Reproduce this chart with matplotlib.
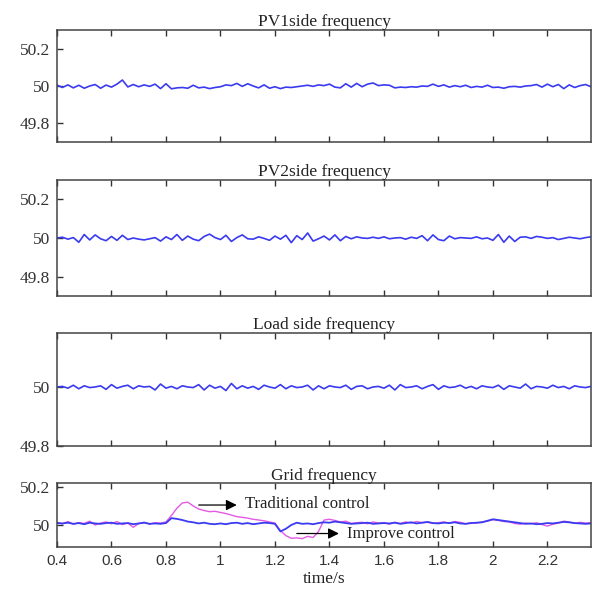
import numpy as np
import matplotlib
matplotlib.use('Agg')
import matplotlib.pyplot as plt

# time base (s), sampled every 0.02 s
t_start, t_step, n_pts = 0.40, 0.02, 99

# frequency deviation from 50 Hz, in mHz
pv1_mhz = [5, -8, 6, -10, 4, -12, 0, 8, -12, 5,
           -6, 10, 32, -5, 8, -4, 6, -2, 10, -14,
           12, -15, -10, -8, -12, 4, -10, -6, -14, -8,
           -4, 6, 2, 14, -2, 12, 0, -10, 6, -12,
           -4, -14, -6, -8, -4, 0, 4, -2, 6, 2,
           10, -6, -10, 12, -6, 14, -4, 10, 16, 2,
           6, 4, -10, -6, -8, -4, -6, 0, -2, 10,
           -2, 6, -6, 2, -4, 4, -8, -2, -6, 4,
           -8, -6, -12, -4, -2, -6, 0, 2, 8, -6,
           10, -4, 8, -14, 6, -8, 2, 8, -4]

pv2_mhz = [0, 4, -6, 2, -22, 18, -10, 16, -4, -14,
           8, -12, 14, -8, 0, -6, -10, -4, 2, -16,
           6, -8, 18, -12, 10, -6, -14, 8, 20, 2,
           -8, 14, -18, 2, 16, -4, -6, 6, -2, -12,
           10, -6, 14, -24, 12, -8, 26, -16, -4, 10,
           -10, 16, -14, 8, -4, 6, 0, -2, 4, -2,
           6, -4, 0, 2, -6, 4, -2, 12, -14, 16,
           -8, -14, 10, -4, 2, 0, -2, 6, -4, 0,
           -12, 18, -22, 10, -18, 4, 6, -2, 8, 4,
           -2, 2, -8, -2, 4, 0, -4, 2, 6]

load_mhz = [0, 2, -4, 6, -6, 4, -2, 0, 4, -8,
            8, -4, 2, 6, -6, 4, 0, 2, -10, 10,
            -4, 2, -6, 4, 0, -2, 8, -10, 6, -4,
            2, -12, 12, -6, 4, -4, 2, -8, 6, 0,
            -4, 8, -6, 4, -2, 0, 6, -10, 4, -6,
            4, 0, -2, 6, -8, 2, 4, -6, 0, 2,
            -4, 6, -10, 8, -2, 0, 4, -6, 2, 8,
            -8, 4, -2, 0, 6, -4, 2, -6, 4, 0,
            -2, 6, -8, 4, 0, -4, 10, -6, 2, 0,
            -4, 6, -2, 2, -6, 4, 0, -2, 2]

grid_improved_mhz = [10, 8, 12, 6, 10, 4, 12, 8, 6, 10,
                     12, 6, 8, 10, 4, 8, 12, 6, 8, 6,
                     10, 36, 32, 26, 18, 14, 8, 12, 6, 4,
                     8, 4, 10, 12, 6, 10, 4, 8, 12, 10,
                     6, -34, -20, 0, 12, 6, 8, 4, 10, 14,
                     12, 18, 14, 10, 6, 8, 10, 12, 6, 8,
                     10, 8, 12, 6, 10, 14, 8, 12, 16, 10,
                     8, 12, 10, 14, 8, 6, 10, 12, 14, 22,
                     30, 26, 22, 18, 14, 10, 6, 8, 4, 6,
                     10, 8, 12, 16, 14, 10, 8, 6, 8]

grid_traditional_mhz = [14, 6, 18, 4, 12, 8, 20, 0, 10, 16,
                        6, 18, 2, 10, -12, 8, 14, 4, 12, 10,
                        16, 50, 88, 116, 120, 100, 84, 76, 70, 72,
                        66, 60, 52, 44, 40, 36, 30, 26, 22, 16,
                        10, -30, -56, -70, -68, -72, -60, -66, -34, 26,
                        30, 24, 16, 20, 8, 12, 14, 6, 16, 10,
                        12, 4, 14, 8, 16, 10, 18, 12, 14, 8,
                        12, 16, 10, 18, 14, 6, 12, 10, 16, 20,
                        28, 24, 18, 16, 8, 4, 10, 6, 12, 2,
                        -6, 4, 10, 20, 16, 8, 14, 10, 12]

titles = ['PV1side frequency', 'PV2side frequency', 'Load side frequency', 'Grid frequency']
xticks = [0.4, 0.6, 0.8, 1, 1.2, 1.4, 1.6, 1.8, 2, 2.2]
xtick_labels = ['0.4', '0.6', '0.8', '1', '1.2', '1.4', '1.6', '1.8', '2', '2.2']

t = t_start + t_step * np.arange(n_pts)
f = lambda m: 50 + np.array(m) / 1000.0

serif = 'Liberation Serif'
sans = 'Liberation Sans'
blue = '#3a3af0'
pink = '#e45ae4'

fig = plt.figure(figsize=(5.92, 6.00), dpi=100)
L, W = 57 / 592, 534 / 592
rects = [(30, 142), (180, 296), (333, 446), (483, 547)]
ylims = [(49.7, 50.3), (49.7, 50.3), (49.8, 50.183), (49.884, 50.221)]
yticks = [[49.8, 50, 50.2], [49.8, 50, 50.2], [49.8, 50], [50, 50.2]]
yticklabels = [['49.8', '50', '50.2'], ['49.8', '50', '50.2'], ['49.8', '50'], ['50', '50.2']]

axes = []
for k, (top, bot) in enumerate(rects):
    ax = fig.add_axes([L, (600 - bot) / 600, W, (bot - top) / 600])
    ax.set_xlim(0.4, 2.36)
    ax.set_ylim(*ylims[k])
    ax.set_xticks(xticks)
    ax.set_yticks(yticks[k])
    ax.set_yticklabels(yticklabels[k], fontfamily=serif, fontsize=12.5, color='#333333')
    ax.tick_params(direction='in', top=True, right=False, length=4, width=1,
                   color='#333333', pad=5)
    for s in ax.spines.values():
        s.set_color('#444444')
        s.set_linewidth(1.1)
    ax.set_title(titles[k], fontfamily=serif, fontsize=12.5, pad=2, color='#222222')
    if k < 3:
        ax.set_xticklabels([])
    else:
        ax.set_xticklabels(xtick_labels, fontfamily=sans, fontsize=11, color='#333333')
    axes.append(ax)

line_kw = dict(color=blue, lw=1.2, solid_joinstyle='round')
axes[0].plot(t, f(pv1_mhz), **line_kw)
axes[1].plot(t, f(pv2_mhz), **line_kw)
axes[2].plot(t, f(load_mhz), **line_kw)
ax4 = axes[3]
ax4.plot(t, f(grid_traditional_mhz), color=pink, lw=1.0, solid_joinstyle='round')
ax4.plot(t, f(grid_improved_mhz), color=blue, lw=1.3, solid_joinstyle='round')

ax4.annotate('', xy=(1.07, 50.105), xytext=(0.91, 50.105),
             arrowprops=dict(arrowstyle='-|>', color='black', lw=0.9, mutation_scale=16))
ax4.text(1.09, 50.11, 'Traditional control', fontfamily=serif, fontsize=12,
         va='center', ha='left', color='#222222')
ax4.annotate('', xy=(1.445, 49.955), xytext=(1.27, 49.955),
             arrowprops=dict(arrowstyle='-|>', color='black', lw=0.9, mutation_scale=16))
ax4.text(1.465, 49.955, 'Improve control', fontfamily=serif, fontsize=12,
         va='center', ha='left', color='#222222')

ax4.set_xlabel('time/s', fontfamily=serif, fontsize=12.5, labelpad=2, color='#222222')

fig.savefig('out.png', dpi=100)
